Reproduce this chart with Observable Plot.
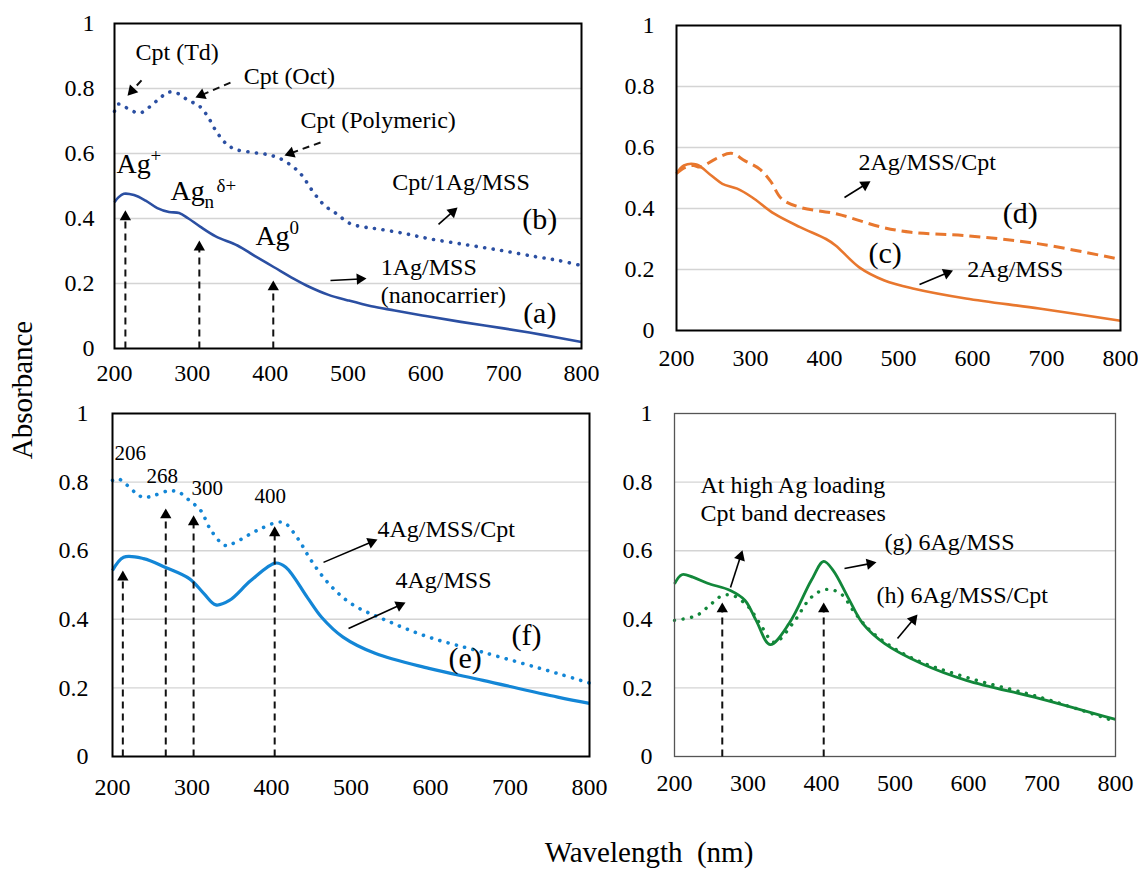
<!DOCTYPE html>
<html><head><meta charset="utf-8">
<script src="https://cdn.jsdelivr.net/npm/d3@7"></script>
<script src="https://cdn.jsdelivr.net/npm/@observablehq/plot@0.6"></script>
<style>
body{margin:0;background:#fff;}
#fig{position:relative;width:1138px;height:872px;font-family:"Liberation Serif","Times New Roman",serif;color:#000;overflow:hidden;}
#fig svg, #fig svg text{font-family:"Liberation Serif","Times New Roman",serif !important;}
.panel{position:absolute;}
.ytitle{position:absolute;left:22px;top:390px;transform:translate(-50%,-50%) rotate(-90deg);font-size:29px;white-space:nowrap;}
.xtitle{position:absolute;left:649px;top:852px;transform:translate(-50%,-50%);font-size:29px;white-space:pre;}
</style></head><body>
<div id="fig">
  <div class="ytitle">Absorbance</div>
  <div class="xtitle">Wavelength  (nm)</div>
</div>
<script>
// ---------- data ----------
const xTicks = [200, 300, 400, 500, 600, 700, 800];
const yTicks = [0, 0.2, 0.4, 0.6, 0.8, 1];
const gridValues = [0.2, 0.4, 0.6, 0.8];

// (a) 1Ag/MSS
const nmA = [200,205,212,225,240,255,270,283,295,310,330,358,380,405,430,450,475,500,530,560,600,645,700,750,800];
const absA = [0.45,0.465,0.476,0.472,0.455,0.432,0.42,0.417,0.4,0.375,0.345,0.317,0.285,0.25,0.215,0.19,0.165,0.148,0.13,0.117,0.1,0.082,0.062,0.042,0.02];
// (b) Cpt/1Ag/MSS
const nmB = [200,205,212,220,232,246,259,270,281,295,308,319,330,343,355,375,396,413,430,440,457,470,485,503,520,535,570,604,650,696,740,770,800];
const absB = [0.73,0.752,0.745,0.735,0.724,0.745,0.772,0.789,0.785,0.763,0.748,0.717,0.671,0.631,0.613,0.604,0.597,0.584,0.558,0.535,0.476,0.44,0.415,0.384,0.374,0.369,0.355,0.338,0.32,0.302,0.283,0.271,0.255];
// (c) 2Ag/MSS
const nmC = [200,210,227,247,262,282,302,332,367,402,415,447,481,521,591,690,800];
const absC = [0.514,0.541,0.544,0.508,0.481,0.465,0.437,0.383,0.339,0.30,0.279,0.207,0.164,0.137,0.105,0.072,0.032];
// (d) 2Ag/MSS/Cpt
const nmD = [200,212,223,232,253,274,292,312,327,342,367,417,477,517,591,690,800];
const absD = [0.515,0.535,0.541,0.536,0.563,0.581,0.557,0.53,0.49,0.432,0.404,0.382,0.339,0.322,0.311,0.284,0.233];
// (e) 4Ag/MSS
const nmE = [200,214,239,266,297,315,330,347,374,405,418,445,463,490,531,598,666,760,800];
const absE = [0.542,0.581,0.577,0.552,0.518,0.475,0.442,0.455,0.513,0.564,0.552,0.464,0.406,0.348,0.30,0.257,0.222,0.173,0.155];
// (f) 4Ag/MSS/Cpt
const nmF = [200,207,230,239,252,270,283,297,311,324,342,355,382,414,432,450,472,500,544,598,666,760,800];
const absF = [0.805,0.81,0.767,0.755,0.761,0.774,0.771,0.746,0.717,0.659,0.615,0.625,0.659,0.683,0.639,0.571,0.504,0.446,0.397,0.348,0.304,0.242,0.214];
// (g) 6Ag/MSS
const nmG = [200,210,225,245,276,296,311,330,356,386,403,416,436,456,486,536,597,697,800];
const absG = [0.503,0.53,0.523,0.505,0.484,0.455,0.397,0.326,0.388,0.513,0.569,0.542,0.464,0.388,0.329,0.271,0.222,0.169,0.108];
// (h) 6Ag/MSS/Cpt
const nmH = [200,230,250,265,280,301,316,336,361,386,406,426,446,471,521,597,697,800];
const absH = [0.397,0.411,0.445,0.469,0.469,0.435,0.388,0.333,0.388,0.464,0.487,0.475,0.417,0.358,0.289,0.231,0.173,0.102];

// annotation labels (wavelength, absorbance)
const labels1 = [
  {s:"Cpt (Td)", nm:227, v:0.911},
  {s:"Cpt (Oct)", nm:366, v:0.837},
  {s:"Cpt (Polymeric)", nm:439, v:0.702},
  {s:"Cpt/1Ag/MSS", nm:557, v:0.511},
  {s:"(b)", nm:724, v:0.397, big:true},
  {s:"1Ag/MSS", nm:542, v:0.249},
  {s:"(nanocarrier)", nm:542, v:0.163},
  {s:"(a)", nm:725, v:0.108, big:true}
];
const agLabels1 = [
  {s:"Ag", sup:"+", sub:"", nm:202.6, v:0.569},
  {s:"Ag", sup:"δ+", sub:"n", nm:272, v:0.483},
  {s:"Ag", sup:"0", sub:"", nm:381, v:0.345}
];
const arrows1 = [
  {x1:234.7, y1:0.825, x2:216.7, y2:0.778, dash:true},
  {x1:349, y1:0.818, x2:304, y2:0.772, dash:true},
  {x1:464.7, y1:0.634, x2:418.4, y2:0.594, dash:true},
  {x1:616.3, y1:0.382, x2:640.7, y2:0.434},
  {x1:477.5, y1:0.209, x2:523.8, y2:0.215},
  {x1:214, y1:0, x2:214, y2:0.425, dash:true},
  {x1:309, y1:0, x2:309, y2:0.332, dash:true},
  {x1:404, y1:0, x2:404, y2:0.209, dash:true}
];
const labels2 = [
  {s:"2Ag/MSS/Cpt", nm:446, v:0.551},
  {s:"(d)", nm:641, v:0.384, big:true},
  {s:"(c)", nm:459.5, v:0.252, big:true},
  {s:"2Ag/MSS", nm:593, v:0.2}
];
const arrows2 = [
  {x1:427, y1:0.436, x2:462.2, y2:0.489},
  {x1:528.4, y1:0.151, x2:573.7, y2:0.197}
];
const labels3 = [
  {s:"206", nm:202.5, v:0.883, small:true},
  {s:"268", nm:242.8, v:0.816, small:true},
  {s:"300", nm:299.4, v:0.781, small:true},
  {s:"400", nm:378.6, v:0.758, small:true},
  {s:"4Ag/MSS/Cpt", nm:533.3, v:0.662},
  {s:"4Ag/MSS", nm:556, v:0.513},
  {s:"(f)", nm:702, v:0.353, big:true},
  {s:"(e)", nm:622.7, v:0.286, big:true}
];
const arrows3 = [
  {x1:213, y1:0, x2:213, y2:0.542, dash:true},
  {x1:267, y1:0, x2:267, y2:0.723, dash:true},
  {x1:302, y1:0, x2:302, y2:0.703, dash:true},
  {x1:404, y1:0, x2:404, y2:0.671, dash:true},
  {x1:465.4, y1:0.566, x2:533.3, y2:0.633},
  {x1:496.9, y1:0.373, x2:568.6, y2:0.449}
];
const labels4 = [
  {s:"At high Ag loading", nm:235.4, v:0.79},
  {s:"Cpt band decreases", nm:235.4, v:0.708},
  {s:"(g) 6Ag/MSS", nm:485.7, v:0.624},
  {s:"(h) 6Ag/MSS/Cpt", nm:474.8, v:0.469}
];
const arrows4 = [
  {x1:276.2, y1:0.493, x2:292.5, y2:0.601},
  {x1:431.3, y1:0.548, x2:474.8, y2:0.566},
  {x1:503.4, y1:0.344, x2:530.6, y2:0.414},
  {x1:265, y1:0, x2:265, y2:0.449, dash:true},
  {x1:403, y1:0, x2:403, y2:0.449, dash:true}
];

// ---------- layout ----------
const FONT = "'Liberation Serif', 'Times New Roman', serif";
const zip = (xs, ys) => xs.map((x, i) => ({nm: x, v: ys[i]}));

const panels = [
  {svg:{left:40, top:0, width:560, height:400}, frame:{x0:114, x1:581, y0:23, y1:348},
   frameColor:"#000", frameWidth:2, xPad:15, yPad:20,
   series:[
     {data: zip(nmA, absA), color:"#2B4FA2", width:2.6},
     {data: zip(nmB, absB), color:"#2B4FA2", width:3.6, dotted:true}
   ], labels: labels1, ag: agLabels1, arrows: arrows1},
  {svg:{left:600, top:0, width:538, height:400}, frame:{x0:676, x1:1120, y0:25, y1:330},
   frameColor:"#000", frameWidth:2, xPad:18, yPad:22,
   series:[
     {data: zip(nmC, absC), color:"#E8772E", width:2.6},
     {data: zip(nmD, absD), color:"#E8772E", width:3, dash:"11,6"}
   ], labels: labels2, ag: [], arrows: arrows2},
  {svg:{left:40, top:400, width:560, height:430}, frame:{x0:112, x1:589, y0:413, y1:756},
   frameColor:"#000", frameWidth:2, xPad:21, yPad:24,
   series:[
     {data: zip(nmE, absE), color:"#1386D6", width:3.2},
     {data: zip(nmF, absF), color:"#1386D6", width:3.6, dotted:true}
   ], labels: labels3, ag: [], arrows: arrows3},
  {svg:{left:600, top:400, width:538, height:430}, frame:{x0:674, x1:1115, y0:413, y1:756},
   frameColor:"#555", frameWidth:1.3, xPad:17, yPad:22,
   series:[
     {data: zip(nmG, absG), color:"#12873A", width:2.8},
     {data: zip(nmH, absH), color:"#12873A", width:3.4, dotted:true}
   ], labels: labels4, ag: [], arrows: arrows4}
];

function buildPanel(p) {
  const {svg, frame} = p;
  const marginLeft = frame.x0 - svg.left;
  const marginRight = svg.left + svg.width - frame.x1;
  const marginTop = frame.y0 - svg.top;
  const marginBottom = svg.top + svg.height - frame.y1;
  const kx = (frame.x1 - frame.x0) / 600;
  const ky = (frame.y1 - frame.y0);

  // arrow geometry (triangular filled heads)
  const tri = 4.2;
  const half = Math.sqrt(Math.PI * tri * tri / (3 * Math.sqrt(3)));
  const heads = [], shafts = [];
  for (const a of p.arrows) {
    const px1 = (a.x1 - 200) * kx, py1 = (1 - a.y1) * ky;
    const px2 = (a.x2 - 200) * kx, py2 = (1 - a.y2) * ky;
    const vx = px2 - px1, vy = py2 - py1, len = Math.hypot(vx, vy);
    const ux = vx / len, uy = vy / len;
    const cx = px2 - ux * 2 * half, cy = py2 - uy * 2 * half;
    heads.push({nm: 200 + cx / kx, v: 1 - cy / ky, rot: Math.atan2(ux, -uy) * 180 / Math.PI});
    shafts.push({x1: a.x1, y1: a.y1, x2: 200 + cx / kx, y2: 1 - cy / ky, dash: a.dash});
  }

  const marks = [
    Plot.gridY(gridValues, {stroke: "#d4d4d4", strokeOpacity: 1, strokeWidth: 1.4}),
    Plot.axisY({ticks: yTicks, tickFormat: d3.format("~g"), tickSize: 0, tickPadding: p.yPad, fontSize: 24, fontFamily: FONT, label: null}),
    Plot.axisX({ticks: xTicks, tickFormat: d => String(d), tickSize: 0, tickPadding: p.xPad, fontSize: 24, fontFamily: FONT, label: null})
  ];
  for (const s of p.series) {
    marks.push(Plot.line(s.data, {
      x: "nm", y: "v", stroke: s.color, strokeWidth: s.width, curve: "catmull-rom",
      strokeDasharray: s.dotted ? "0.1,8.5" : s.dash || null,
      strokeLinecap: s.dotted ? "round" : "butt"
    }));
  }
  marks.push(Plot.frame({stroke: p.frameColor, strokeWidth: p.frameWidth}));
  const solid = shafts.filter(d => !d.dash), dashed = shafts.filter(d => d.dash);
  if (solid.length) marks.push(Plot.link(solid, {x1: "x1", y1: "y1", x2: "x2", y2: "y2", stroke: "#000", strokeWidth: 1.6}));
  if (dashed.length) marks.push(Plot.link(dashed, {x1: "x1", y1: "y1", x2: "x2", y2: "y2", stroke: "#111", strokeWidth: 2, strokeDasharray: "7,5"}));
  marks.push(Plot.dot(heads, {x: "nm", y: "v", symbol: "triangle", r: tri, fill: "#000", stroke: "none", rotate: "rot"}));

  for (const l of p.labels) {
    marks.push(Plot.text([l], {x: "nm", y: "v", text: "s", textAnchor: "start", lineAnchor: "middle",
      fontSize: l.big ? 30 : l.small ? 21 : 24, fill: "#000", fontFamily: FONT}));
  }
  for (const l of p.ag) {
    marks.push(Plot.text([l], {x: "nm", y: "v", text: "s", textAnchor: "start", lineAnchor: "middle", fontSize: 28, fill: "#000", fontFamily: FONT}));
    if (l.sub) marks.push(Plot.text([l], {x: "nm", y: "v", text: "sub", textAnchor: "start", lineAnchor: "middle", fontSize: 19, dx: 34, dy: 10, fill: "#000", fontFamily: FONT}));
    if (l.sup) marks.push(Plot.text([l], {x: "nm", y: "v", text: "sup", textAnchor: "start", lineAnchor: "middle", fontSize: 19, dx: l.sub ? 46 : 34, dy: l.sub ? -6 : -8, fill: "#000", fontFamily: FONT}));
  }

  const chart = Plot.plot({
    width: svg.width, height: svg.height,
    marginLeft, marginRight, marginTop, marginBottom,
    x: {domain: [200, 800]},
    y: {domain: [0, 1]},
    style: {fontFamily: FONT, fontSize: "24px", color: "#000", background: "transparent", overflow: "visible"},
    marks
  });
  chart.classList.add("panel");
  chart.style.left = svg.left + "px";
  chart.style.top = svg.top + "px";
  chart.style.position = "absolute";
  document.getElementById("fig").appendChild(chart);
}
panels.forEach(buildPanel);
</script>
</body></html>
